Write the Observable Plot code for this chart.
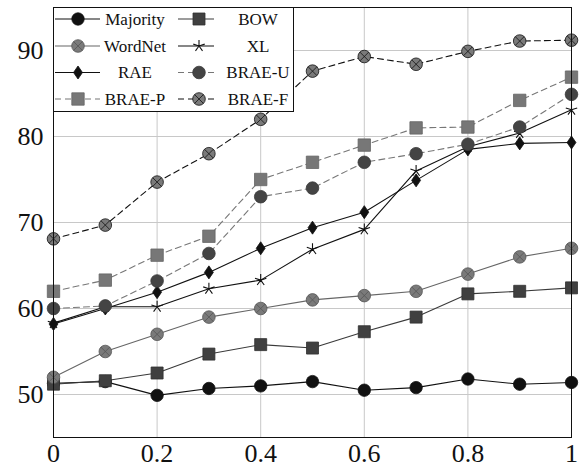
<!DOCTYPE html>
<html><head><meta charset="utf-8">
<script src="https://cdn.jsdelivr.net/npm/d3@7"></script>
<script src="https://cdn.jsdelivr.net/npm/@observablehq/plot@0.6"></script>
<style>
body{margin:0;background:#fff;}
#wrap{position:relative;width:584px;height:470px;}
#legend{position:absolute;left:0;top:0;}
#legend text{font-family:"Liberation Serif","DejaVu Serif",serif;}
</style>
</head><body><div id="wrap"></div>
<script>
const xs = [0, 0.1, 0.2, 0.3, 0.4, 0.5, 0.6, 0.7, 0.8, 0.9, 1];
const seriesNames = ["Majority", "BOW", "WordNet", "XL", "RAE", "BRAE-U", "BRAE-P", "BRAE-F"];
const majority = [51.3, 51.5, 49.9, 50.7, 51.0, 51.5, 50.5, 50.8, 51.8, 51.2, 51.4];
const bow      = [51.2, 51.6, 52.5, 54.7, 55.8, 55.4, 57.3, 59.0, 61.7, 62.0, 62.4];
const wordnet  = [52.0, 55.0, 57.0, 59.0, 60.0, 61.0, 61.5, 62.0, 64.0, 66.0, 67.0];
const xl       = [58.3, 60.2, 60.2, 62.3, 63.3, 66.9, 69.2, 76.0, 78.8, 80.4, 83.1];
const rae      = [58.2, 60.0, 61.9, 64.2, 67.0, 69.4, 71.2, 74.9, 78.5, 79.2, 79.3];
const braeU    = [60.0, 60.3, 63.2, 66.4, 73.0, 74.0, 77.0, 78.0, 79.1, 81.1, 84.9];
const braeP    = [62.0, 63.3, 66.2, 68.4, 75.0, 77.0, 79.0, 81.0, 81.1, 84.2, 86.9];
const braeF    = [68.1, 69.7, 74.7, 78.0, 82.0, 87.6, 89.3, 88.4, 89.9, 91.1, 91.2];
const yTicks = [50, 60, 70, 80, 90];
const xGridTicks = [0.2, 0.4, 0.6, 0.8];
const xTicks = [0, 0.2, 0.4, 0.6, 0.8, 1];

const valuesByName = {"Majority": majority, "BOW": bow, "WordNet": wordnet, "XL": xl, "RAE": rae, "BRAE-U": braeU, "BRAE-P": braeP, "BRAE-F": braeF};

// custom symbols
const rad = (size) => Math.sqrt(size / Math.PI);
const symCircle = {draw(c, s){const r = rad(s); c.moveTo(r,0); c.arc(0,0,r,0,2*Math.PI);}};
const symCircleX = {draw(c, s){const r = rad(s); c.moveTo(r,0); c.arc(0,0,r,0,2*Math.PI); const a=r*Math.SQRT1_2; c.moveTo(-a,-a); c.lineTo(a,a); c.moveTo(-a,a); c.lineTo(a,-a);}};
const symSquare = {draw(c, s){const r = rad(s); c.rect(-r,-r,2*r,2*r);}};
const symDiamond = {draw(c, s){const r = rad(s); c.moveTo(0,-r*1.05); c.lineTo(r*0.72,0); c.lineTo(0,r*1.05); c.lineTo(-r*0.72,0); c.closePath();}};
const symStar = {draw(c, s){const r = rad(s); for(let k=0;k<5;k++){const a=-Math.PI/2+k*2*Math.PI/5; c.moveTo(0,0); c.lineTo(r*Math.cos(a), r*Math.sin(a));}}};

const styles = {
  "Majority": {line:"#111", dash:null, sym:symCircle, fill:"#111", stroke:"#111", r:6.2},
  "BOW":      {line:"#3a3a3a", dash:null, sym:symSquare, fill:"#404040", stroke:"#303030", r:6.0},
  "WordNet":  {line:"#666", dash:null, sym:symCircleX, fill:"#7a7a7a", stroke:"#555", r:6.3},
  "XL":       {line:"#111", dash:null, sym:symStar, fill:"none", stroke:"#111", r:6.0},
  "RAE":      {line:"#111", dash:null, sym:symDiamond, fill:"#111", stroke:"#111", r:6.2},
  "BRAE-U":   {line:"#777", dash:"6,4", sym:symCircle, fill:"#444", stroke:"#3a3a3a", r:6.3},
  "BRAE-P":   {line:"#777", dash:"6,4", sym:symSquare, fill:"#777", stroke:"#666", r:6.2},
  "BRAE-F":   {line:"#111", dash:"6,4", sym:symCircleX, fill:"#7a7a7a", stroke:"#111", r:6.3}
};

const rows = seriesNames.map(n => xs.map((x,i) => ({series:n, x, y:valuesByName[n][i]})));

const marks = [
  Plot.gridX(xGridTicks, {stroke:"#c8c8c8", strokeOpacity:1, strokeWidth:1}),
  Plot.gridY(yTicks, {stroke:"#c8c8c8", strokeOpacity:1, strokeWidth:1}),
  Plot.axisX(xTicks, {tickSize:0, tickPadding:6, fontSize:26, tickFormat:d=>String(d), label:null}),
  Plot.axisY(yTicks, {tickSize:0, tickPadding:10, fontSize:26, label:null}),
];
seriesNames.forEach((n,k) => {
  const st = styles[n];
  marks.push(Plot.line(rows[k], {x:"x", y:"y", stroke:st.line, strokeWidth:1.1, strokeDasharray:st.dash || undefined}));
});
seriesNames.forEach((n,k) => {
  const st = styles[n];
  marks.push(Plot.dot(rows[k], {x:"x", y:"y", symbol:st.sym, r:st.r, fill:st.fill, stroke:st.stroke, strokeWidth: n==="XL" ? 1.1 : 0.8}));
});
marks.push(Plot.frame({stroke:"#111", strokeWidth:1}));

const chart = Plot.plot({
  width:584, height:470,
  marginLeft:53, marginRight:13, marginTop:7, marginBottom:33,
  style:{fontFamily:"'Liberation Serif', 'DejaVu Serif', serif", color:"#111", background:"#fff"},
  x:{domain:[0,1], label:null},
  y:{domain:[45,95], label:null},
  marks
});
const wrap = document.getElementById("wrap");
wrap.appendChild(chart);

// overlay legend
const L = d3.select(wrap).append("svg").attr("id","legend").attr("width",584).attr("height",470);
L.append("rect").attr("x",53.5).attr("y",7.5).attr("width",240).attr("height",104).attr("fill","#fff").attr("stroke","#111").attr("stroke-width",1);
const colDef = [{l0:55, l1:100, m:78, t:135}, {l0:178, l1:214, m:199, t:258}];
const rowY = [19, 46, 72.5, 99];
seriesNames.forEach((n,i) => {
  const st = styles[n];
  const c = colDef[i%2], y = rowY[Math.floor(i/2)];
  L.append("line").attr("x1",c.l0).attr("x2",c.l1).attr("y1",y).attr("y2",y)
    .attr("stroke",st.line).attr("stroke-width",1.1).attr("stroke-dasharray",st.dash);
  L.append("path").attr("d", d3.symbol().type(st.sym).size(Math.PI*st.r*st.r)())
    .attr("transform",`translate(${c.m},${y})`).attr("fill",st.fill).attr("stroke",st.stroke)
    .attr("stroke-width", n==="XL"?1.1:0.8);
  L.append("text").attr("x",c.t).attr("y",y).attr("dy","0.35em").attr("text-anchor","middle")
    .attr("font-family","Liberation Serif, DejaVu Serif, serif")
    .attr("font-size",17).attr("fill","#111").text(n);
});
</script></body></html>
